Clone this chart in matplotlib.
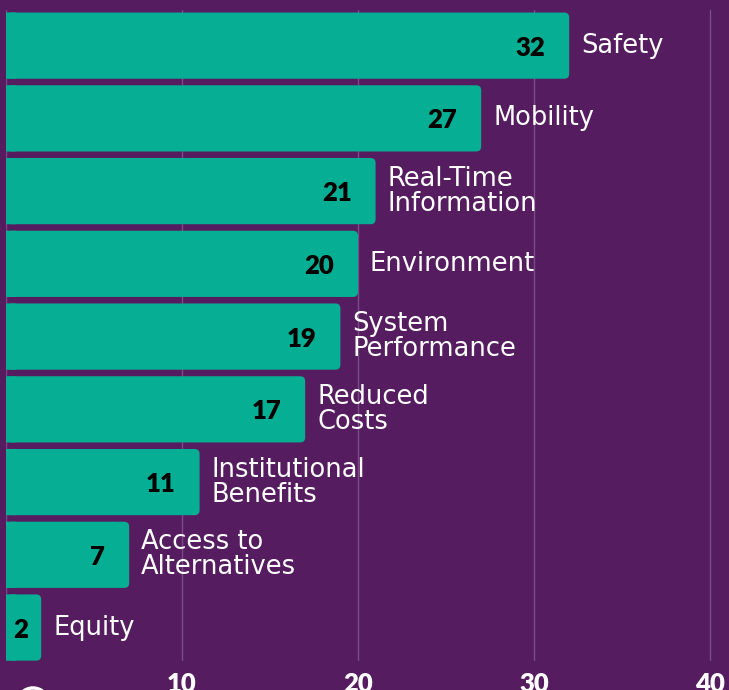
import matplotlib.pyplot as plt
from matplotlib.patches import FancyBboxPatch, Circle

# ── data ──────────────────────────────────────────────────────────────
categories = [
    "Safety", "Mobility", "Real-Time\nInformation", "Environment",
    "System\nPerformance", "Reduced\nCosts", "Institutional\nBenefits",
    "Access to\nAlternatives", "Equity",
]
values = [32, 27, 21, 20, 19, 17, 11, 7, 2]
xticks = [10, 20, 30, 40]

# ── colours ───────────────────────────────────────────────────────────
C_BG = "#551C5F"
C_BAR = "#06AE94"
C_GRID = "#7C4B87"
FONT = ["Lato", "DejaVu Sans"]
FONT_LAB = ["DejaVu Sans"]

W, H = 729, 690
fig = plt.figure(figsize=(W / 100, H / 100), dpi=100, facecolor=C_BG)
ax = fig.add_axes([6 / W, (H - 661) / H, 1 - 6 / W, (661 - 10) / H])
ax.set_facecolor(C_BG)

x_max = (W - 6) / 17.6
ax.set_xlim(0, x_max)
ax.set_ylim(-0.46, 8.49)

ypos = list(range(len(values) - 1, -1, -1))
bars = ax.barh(ypos, values, height=0.91, color=C_BAR, zorder=3)

# px per data unit
px_x = 17.6
px_y = 651 / (8.49 + 0.46)
r = 5 / px_x
for rect in bars:
    x0, y0 = rect.get_x(), rect.get_y()
    w, h = rect.get_width(), rect.get_height()
    rect.set_width(min(2 * r, w))  # keeps the left corners square
    rect.set_snap(False)
    rect.set_zorder(4)
    ax.add_patch(FancyBboxPatch(
        (x0, y0), w, h,
        boxstyle=f"round,pad=0,rounding_size={r}",
        mutation_aspect=px_x / px_y,
        facecolor=C_BAR, edgecolor="none", zorder=3,
    ))

for y, v, lab in zip(ypos, values, categories):
    ax.annotate(str(v), (v, y), xytext=(-24 if v > 3 else -13, -2),
                textcoords="offset pixels", ha="right", va="center",
                fontsize=18.5, fontweight="heavy", color="black",
                family=FONT, zorder=5)
    ax.annotate(lab, (v, y), xytext=(12, 0), textcoords="offset pixels",
                ha="left", va="center", fontsize=18.5, color="white",
                family=FONT_LAB, linespacing=0.95, zorder=5)

ax.set_xticks([0] + xticks)
ax.set_xticklabels([""] + [str(t) for t in xticks],
                   fontweight="heavy", family=FONT, fontsize=18.5)
ax.set_yticks([])
ax.grid(axis="x", color=C_GRID, lw=1, zorder=1)
ax.tick_params(axis="x", length=0, pad=8, colors="white")
for s in ax.spines.values():
    s.set_visible(False)

# partial logo circle at the bottom-left edge
fig.add_artist(Circle((0.33, -0.14), 0.16, transform=fig.dpi_scale_trans,
                      facecolor=C_BG, edgecolor="white", lw=2.5))

fig.savefig("out.png", dpi=100, facecolor=C_BG)
